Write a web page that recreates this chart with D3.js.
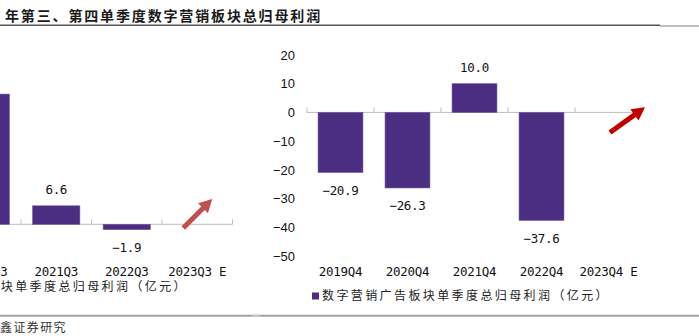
<!DOCTYPE html>
<html>
<head>
<meta charset="utf-8">
<script src="https://cdn.jsdelivr.net/npm/d3@7"></script>
<style>
  html, body { margin: 0; padding: 0; background: #fff; overflow: hidden; }
  svg { display: block; }
  .cjk { font-family: "Noto Sans CJK SC", sans-serif; }
  .mono { font-family: "DejaVu Sans Mono", monospace; }
  .sans { font-family: "Liberation Sans", Arial, sans-serif; }
</style>
</head>
<body>
<svg id="chart" width="699" height="336"></svg>
<script>
// Third-quarter series (left panel) and fourth-quarter series (right panel), 亿元
const q3Categories = ["2020Q3", "2021Q3", "2022Q3", "2023Q3 E"];
const q3Values = [46.5, 6.6, -1.9, null];

const q4Categories = ["2019Q4", "2020Q4", "2021Q4", "2022Q4", "2023Q4 E"];
const q4Values = [-20.9, -26.3, 10.0, -37.6, null];
const q4Ticks = [20, 10, 0, -10, -20, -30, -40, -50];

const titleText = "年第三、第四单季度数字营销板块总归母利润";
const legendText = "数字营销广告板块单季度总归母利润（亿元）";
const sourceText = "鑫证券研究";

const BAR = "#4b2d82";
const AXIS = "#bfbfbf";
const fmt = d3.format(".1f");

const svg = d3.select("#chart");

// header and footer rules
svg.append("line").attr("x1", 0).attr("x2", 660).attr("y1", 25.3).attr("y2", 25.3)
  .attr("stroke", "#555").attr("stroke-width", 1.5);
svg.append("line").attr("x1", 660).attr("x2", 699).attr("y1", 26).attr("y2", 26)
  .attr("stroke", "#aaa").attr("stroke-width", 1.5);
svg.append("line").attr("x1", 0).attr("x2", 699).attr("y1", 315.7).attr("y2", 315.7)
  .attr("stroke", "#a3a3a3").attr("stroke-width", 2);
svg.append("line").attr("x1", 252).attr("x2", 260).attr("y1", 315.7).attr("y2", 315.7)
  .attr("stroke", "#c8c8c8").attr("stroke-width", 2);

svg.append("text").attr("class", "cjk")
  .attr("x", 5).attr("y", 20.5)
  .attr("font-size", 14).attr("font-weight", 700).attr("letter-spacing", 1.85)
  .attr("fill", "#1a1a1a")
  .text(titleText);

svg.append("text").attr("class", "cjk")
  .attr("x", 0).attr("y", 332)
  .attr("font-size", 12).attr("letter-spacing", 1.4)
  .attr("fill", "#333")
  .text(sourceText);

function arrow(g, x1, y1, x2, y2, color, shaftW, headL, headW) {
  const dx = x2 - x1, dy = y2 - y1, len = Math.hypot(dx, dy);
  const ux = dx / len, uy = dy / len, nx = -uy, ny = ux;
  const bx = x2 - ux * headL, by = y2 - uy * headL;
  const pts = [
    [x1 + nx * shaftW / 2, y1 + ny * shaftW / 2],
    [bx + nx * shaftW / 2, by + ny * shaftW / 2],
    [bx + nx * headW / 2, by + ny * headW / 2],
    [x2, y2],
    [bx - nx * headW / 2, by - ny * headW / 2],
    [bx - nx * shaftW / 2, by - ny * shaftW / 2],
    [x1 - nx * shaftW / 2, y1 - ny * shaftW / 2]
  ];
  g.append("polygon").attr("points", pts.map(p => p.join(",")).join(" ")).attr("fill", color);
}

function panel(cfg) {
  const g = svg.append("g");
  const x = d3.scaleBand().domain(cfg.categories).range(cfg.xRange)
    .paddingInner(0.33).paddingOuter(0.165);
  const y = d3.scaleLinear().domain(cfg.yDomain).range(cfg.yRange);
  const step = x.step();
  const x0 = cfg.xRange[0];
  const zero = y(0);

  // category axis along zero with upward ticks at band boundaries
  g.append("line").attr("x1", cfg.xRange[0]).attr("x2", cfg.xRange[1])
    .attr("y1", zero).attr("y2", zero).attr("stroke", AXIS).attr("stroke-width", 1);
  g.selectAll(".tk").data(d3.range(cfg.categories.length + 1)).join("line")
    .attr("x1", i => x0 + i * step).attr("x2", i => x0 + i * step)
    .attr("y1", zero).attr("y2", zero - 5)
    .attr("stroke", AXIS).attr("stroke-width", 1);

  const data = cfg.categories.map((c, i) => ({ c, v: cfg.values[i] })).filter(d => d.v != null);

  g.selectAll(".bar").data(data).join("rect")
    .attr("x", d => x(d.c))
    .attr("width", x.bandwidth())
    .attr("y", d => Math.min(y(d.v), zero))
    .attr("height", d => Math.abs(y(d.v) - zero))
    .attr("fill", BAR).attr("stroke", "#6b5598").attr("stroke-width", 0.6);

  g.selectAll(".lbl").data(data).join("text").attr("class", "mono")
    .attr("x", d => x(d.c) + x.bandwidth() / 2)
    .attr("y", d => d.v >= 0 ? y(d.v) - 16 : y(d.v) + 18)
    .attr("dy", "0.35em")
    .attr("text-anchor", "middle")
    .attr("font-size", 12.5).attr("letter-spacing", -0.3)
    .attr("fill", "#111")
    .text(d => fmt(d.v));

  g.selectAll(".xl").data(cfg.categories).join("text").attr("class", "mono")
    .attr("x", c => x(c) + x.bandwidth() / 2)
    .attr("y", 272).attr("dy", "0.35em")
    .attr("text-anchor", "middle")
    .attr("font-size", 12.5).attr("letter-spacing", -0.3)
    .attr("fill", "#111")
    .text(c => c);

  if (cfg.ticks) {
    const ax = d3.axisLeft(y).tickValues(cfg.ticks).tickSize(0).tickPadding(0);
    const a = g.append("g").attr("transform", `translate(${cfg.tickX},0)`).call(ax);
    a.select(".domain").remove();
    a.selectAll("text").attr("class", "sans").attr("font-size", 13)
      .attr("font-family", "Liberation Sans, Arial, sans-serif").attr("fill", "#111");
  }

  // legend
  const lg = g.append("g");
  const lt = lg.append("text").attr("class", "cjk")
    .attr("x", cfg.legendX).attr("y", cfg.legendY).attr("dy", "0.35em")
    .attr("font-size", 12).attr("letter-spacing", 2.4).attr("fill", "#222")
    .attr("text-anchor", cfg.legendAnchor)
    .text(legendText);
  const bb = lt.node().getBBox();
  lg.append("rect").attr("x", bb.x - 10).attr("y", cfg.legendY - 3.5)
    .attr("width", 7).attr("height", 7).attr("fill", BAR);

  // trend arrow over the estimate category
  const last = cfg.categories[cfg.categories.length - 1];
  const cx = x(last) + x.bandwidth() / 2;
  const a = cfg.arrow;
  arrow(g, cx + a.dx1, y(a.v1), cx + a.dx2, y(a.v2), a.color, 5, 13, 14);
}

panel({
  categories: q3Categories, values: q3Values,
  xRange: [-49.5, 232.5], yDomain: [-10, 60], yRange: [252.3, 56.3],
  legendX: 188, legendY: 287, legendAnchor: "end",
  arrow: { dx1: -14, v1: -1.3, dx2: 15, v2: 9, color: "#c0504d" }
});

panel({
  categories: q4Categories, values: q4Values,
  xRange: [307, 642], yDomain: [-50, 20], yRange: [256, 55],
  ticks: q4Ticks, tickX: 295,
  legendX: 322, legendY: 296, legendAnchor: "start",
  arrow: { dx1: 1.5, v1: -7, dx2: 36.5, v2: 1.8, color: "#c00000" }
});
</script>
</body>
</html>
